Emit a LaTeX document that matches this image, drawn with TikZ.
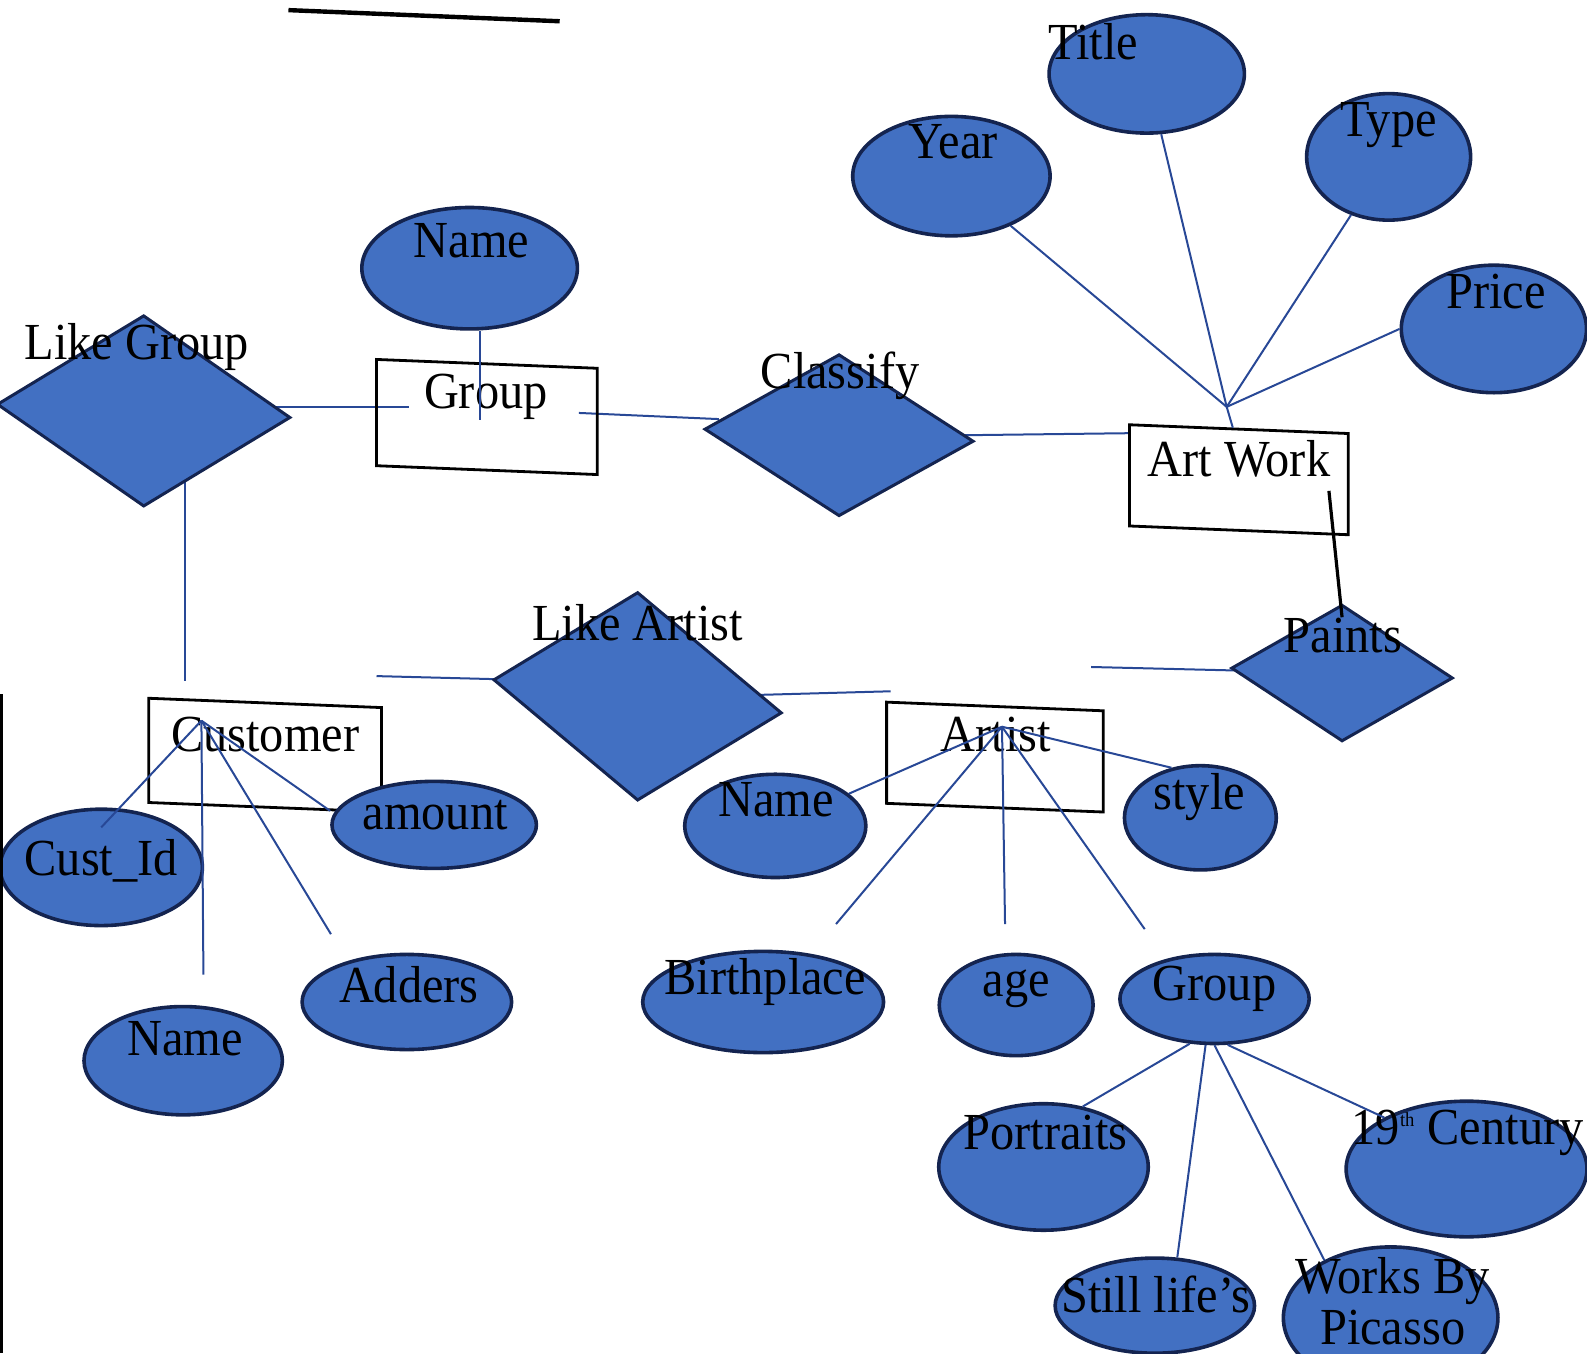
\documentclass[tikz,border=0pt]{standalone}
\usepackage{fontspec}
\setmainfont{Liberation Serif}[FakeStretch=0.93]
\usetikzlibrary{shapes.geometric,backgrounds}
\definecolor{erblue}{RGB}{66,112,194}
\definecolor{ernavy}{RGB}{20,36,80}
\definecolor{erline}{RGB}{40,72,150}

\begin{document}
\begin{tikzpicture}[x=0.506pt,y=-0.506pt]
	% `entity' is a plain box, `relation' a filled diamond, `attr' a filled ellipse.
	% `lbl' is used for all texts, they sit apart from their shapes.
	\tikzstyle{entity} = [draw=black,line width=1.4pt,inner sep=0pt,yslant=-0.04]
	\tikzstyle{relation} = [draw=ernavy,fill=erblue,diamond,line width=1.5pt,inner sep=0pt,yslant=-0.045]
	\tikzstyle{attr} = [draw=ernavy,fill=erblue,ellipse,line width=1.8pt,inner sep=0pt]
	\tikzstyle{lbl} = [anchor=base,inner sep=0pt,font=\fontsize{26}{30}\selectfont]
	\tikzstyle{link} = [draw=erline,line width=1pt]
	\tikzset{sz/.style 2 args={minimum width=#1*0.506pt,minimum height=#2*0.506pt}}
	%
	\useasboundingbox (0,0) rectangle (1568,1337);
	\clip (0,0) rectangle (1568,1337);
	% Entities.
	\node[entity,sz={218}{105}] (group) at (481,412) {};
	\node[entity,sz={216}{100}] (artwork) at (1224,474) {};
	\node[entity,sz={230}{103}] (customer) at (262,746) {};
	\node[entity,sz={214}{100}] (artist) at (983,748) {};
	% Relationships.
	\node[relation,sz={290}{189}] (likegroup) at (142,406) {};
	\node[relation,sz={266}{160}] (classify) at (829,430) {};
	\node[relation,sz={285}{206},yslant=-0.07] (likeartist) at (630,688) {};
	\node[relation,sz={219}{135}] (paints) at (1326,665) {};
	% Attributes.
	\node[attr,sz={213}{120}] (gname) at (464,265) {};
	\node[attr,sz={195}{118}] (year) at (940,174) {};
	\node[attr,sz={193}{117}] (title) at (1133,73) {};
	\node[attr,sz={162}{125}] (type) at (1372,155) {};
	\node[attr,sz={183}{126}] (price) at (1476,325) {};
	\node[attr,sz={200}{115}] (custid) at (100,857) {};
	\node[attr,sz={202}{86}] (amount) at (429,815) {};
	\node[attr,sz={196}{107}] (cname) at (181,1048) {};
	\node[attr,sz={207}{94}] (adders) at (402,990) {};
	\node[attr,sz={179}{102}] (aname) at (766,816) {};
	\node[attr,sz={150}{103}] (style) at (1186,808) {};
	\node[attr,sz={238}{100}] (birth) at (754,990) {};
	\node[attr,sz={152}{100}] (age) at (1004,993) {};
	\node[attr,sz={187}{88}] (agroup) at (1200,987) {};
	\node[attr,sz={207}{125}] (portraits) at (1031,1153) {};
	\node[attr,sz={238}{134}] (century) at (1449,1155) {};
	\node[attr,sz={197}{94}] (still) at (1141,1290) {};
	\node[attr,sz={212}{140}] (works) at (1374,1302) {};
	%
	% Texts.
	\node[lbl] (likegroupT) at (135,355) {Like Group};
	\node[lbl] (classifyT) at (830,384) {Classify};
	\node[lbl] (likeartistT) at (630,633) {Like Artist};
	\node[lbl] (paintsT) at (1327,645) {Paints};
	\node[lbl] (groupT) at (480,404) {Group};
	\node[lbl] (artworkT) at (1224,471) {Art Work};
	\node[lbl] (customerT) at (262,742) {Customer};
	\node[lbl] (artistT) at (984,742) {Artist};
	\node[lbl] (gnameT) at (466,254) {Name};
	\node[lbl] (yearT) at (942,157) {Year};
	\node[lbl] (titleT) at (1080,59) {Title};
	\node[lbl] (typeT) at (1372,135) {Type};
	\node[lbl] (priceT) at (1478,305) {Price};
	\node[lbl] (custidT) at (100,865) {Cust\_Id};
	\node[lbl] (amountT) at (430,820) {amount};
	\node[lbl] (cnameT) at (183,1043) {Name};
	\node[lbl] (addersT) at (404,990) {Adders};
	\node[lbl] (anameT) at (767,807) {Name};
	\node[lbl] (styleT) at (1185,800) {style};
	\node[lbl] (birthT) at (756,983) {Birthplace};
	\node[lbl] (ageT) at (1004,985) {age};
	\node[lbl] (agroupT) at (1200,989) {Group};
	\node[lbl] (portraitsT) at (1033,1136) {Portraits};
	\node[lbl] (centuryT) at (1450,1131) {19\textsuperscript{\fontsize{10}{10}\selectfont th} Century};
	\node[lbl] (stillT) at (1142,1297) {Still life’s};
	\node[lbl] (worksT) at (1376,1278) {Works By};
	\node[lbl] (picassoT) at (1376,1328) {Picasso};
	%
	% Free ends and meeting points of the lines.
	\coordinate (lgR) at (404,402);
	\coordinate (lgB) at (183,673);
	\coordinate (grpR) at (572,408);
	\coordinate (awL) at (1116,428);
	\coordinate (laL) at (372,668);
	\coordinate (laR) at (880,683);
	\coordinate (pL) at (1078,659);
	\coordinate (pTop) at (1313,485);
	\coordinate (gnB) at (474,415);
	\coordinate (awhub) at (1212,402);
	\coordinate (cuhub) at (199,712);
	\coordinate (cnB) at (201,963);
	\coordinate (adB) at (327,923);
	\coordinate (arhub) at (990,718);
	\coordinate (biB) at (826,913);
	\coordinate (agB) at (993,913);
	\coordinate (grB) at (1131,918);
	%
	\begin{pgfonlayer}{background}
		% Lines that run into the diamonds.
		\draw[link] (likegroup.center |- lgR) -- (lgR);
		\draw[link] (lgB |- likegroup.center) -- (lgB);
		\draw[link] (grpR) -- ([xshift=8pt,yshift=5pt]classify.west);
		\draw[link] ([xshift=-10pt,yshift=3pt]classify.east) -- (awL);
		\draw[link] (laL) -- ([xshift=10pt]likeartist.west);
		\draw[link] ([xshift=-16pt,yshift=9pt]likeartist.east) -- (laR);
		\draw[link] (pL) -- (paints.center);
	\end{pgfonlayer}
	% Draw lines.
	\draw[line width=1.6pt] (pTop) -- ([yshift=-7pt]paints.north);
	\draw[link] (gnB |- gname.south) -- (gnB);
	\draw[link] (year) -- (awhub);
	\draw[link] (title) -- (awhub);
	\draw[link] (type) -- (awhub);
	\draw[link] (price.west) -- (awhub);
	\draw[link] (awhub) -- ([xshift=-3pt]artwork.north);
	% Customer.
	\draw[link] (cuhub) -- ([yshift=-10pt]custid.north);
	\draw[link] (cuhub) -- (cnB);
	\draw[link] (cuhub) -- (adB);
	\draw[link] (cuhub) -- ([yshift=7pt]amount.west);
	% Artist.
	\draw[link] (arhub) -- (aname);
	\draw[link] (arhub) -- (style.120);
	\draw[link] (arhub) -- (biB);
	\draw[link] (arhub) -- (agB);
	\draw[link] (arhub) -- (grB);
	% Group of the artist.
	\draw[link] (agroup.-119) -- (portraits.57);
	\draw[link] (agroup.-101) -- (still.65);
	\draw[link] (agroup.-90) -- (works.139);
	\draw[link] (agroup.-74) -- (century.148);
	% Edge of the scan.
	\draw[line width=2.2pt] (285,10) -- (553,21);
	\draw[line width=1.6pt] (1,686) -- (1,1337);
\end{tikzpicture}
\end{document}
